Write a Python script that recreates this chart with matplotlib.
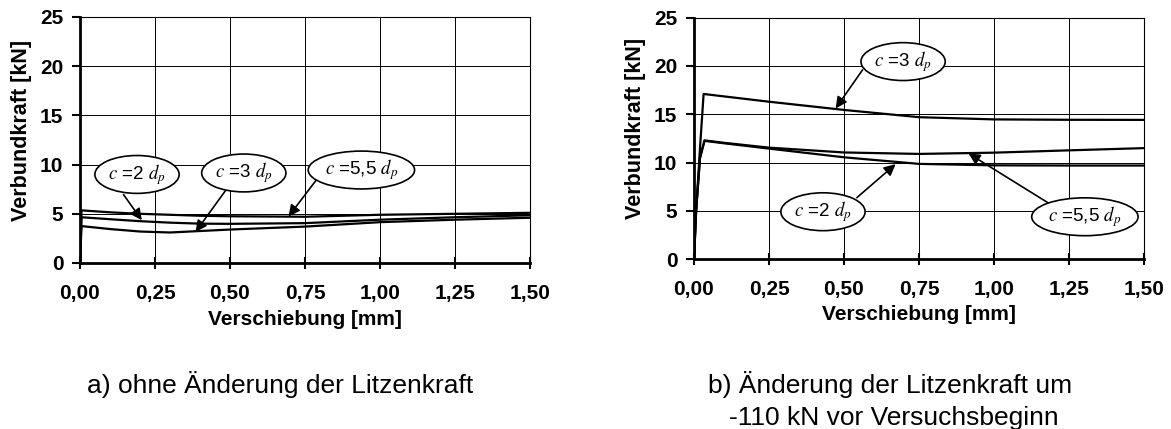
import matplotlib
matplotlib.use("Agg")
import matplotlib.pyplot as plt

plt.rcParams['font.family'] = ['Liberation Sans', 'DejaVu Sans']
plt.rcParams['mathtext.fontset'] = 'stix'

# x ticks / y ticks
x_ticks = [0.0, 0.25, 0.5, 0.75, 1.0, 1.25, 1.5]
x_ticklabels = ['0,00', '0,25', '0,50', '0,75', '1,00', '1,25', '1,50']
y_ticks = [0, 5, 10, 15, 20, 25]

# a) ohne Aenderung der Litzenkraft
a_x = [0.0, 0.005, 0.1, 0.2, 0.3, 0.4, 0.5, 0.75, 1.0, 1.25, 1.5]
a_2dp = [0.0, 4.65, 4.45, 4.25, 4.1, 4.0, 3.98, 4.05, 4.4, 4.65, 4.85]
a_3dp = [0.0, 3.75, 3.45, 3.2, 3.1, 3.25, 3.4, 3.7, 4.15, 4.4, 4.6]
a_55dp = [0.0, 5.35, 5.15, 5.0, 4.9, 4.8, 4.75, 4.7, 4.9, 5.0, 5.1]

# b) Aenderung der Litzenkraft um -110 kN
b_x_3dp = [0.0, 0.007, 0.02, 0.032, 0.1, 0.25, 0.5, 0.75, 1.0, 1.25, 1.5]
b_3dp = [0.0, 5.0, 11.5, 17.1, 16.85, 16.3, 15.45, 14.7, 14.47, 14.43, 14.42]
b_x_low = [0.0, 0.007, 0.02, 0.035, 0.1, 0.25, 0.5, 0.75, 1.0, 1.25, 1.5]
b_2dp = [0.0, 5.0, 10.5, 12.25, 12.0, 11.45, 10.55, 9.87, 9.72, 9.7, 9.7]
b_55dp = [0.0, 5.0, 10.5, 12.3, 12.05, 11.55, 11.05, 10.9, 11.03, 11.27, 11.5]

# labels: (text, centre, arrow start, arrow tip)
a_labels = [
    (r'$c$ =2 $d_p$', (0.19, 9.0), (0.145, 6.95), (0.206, 4.35)),
    (r'$c$ =3 $d_p$', (0.546, 9.15), (0.486, 7.4), (0.385, 3.15)),
    (r'$c$ =5,5 $d_p$', (0.938, 9.45), (0.788, 8.45), (0.695, 4.72)),
]
b_labels = [
    (r'$c$ =3 $d_p$', (0.697, 20.45), (0.562, 19.6), (0.472, 15.6)),
    (r'$c$ =2 $d_p$', (0.43, 4.92), (0.543, 6.38), (0.672, 9.84)),
    (r'$c$ =5,5 $d_p$', (1.303, 4.4), (1.184, 5.77), (0.915, 10.95)),
]

W, H = 1171, 429
fig = plt.figure(figsize=(W / 100, H / 100), dpi=100)
ax1 = fig.add_axes([80 / W, 1 - 263 / H, 450 / W, 246 / H])
ax2 = fig.add_axes([694 / W, 1 - 259.3 / H, 450 / W, 241.7 / H])


def style(ax):
    ax.set_xlim(0, 1.5)
    ax.set_ylim(0, 25)
    ax.set_xticks(x_ticks)
    ax.set_xticklabels(x_ticklabels)
    ax.set_yticks(y_ticks)
    ax.grid(True, color='k', lw=0.7)
    ax.set_axisbelow(True)
    for s in ['left', 'bottom']:
        ax.spines[s].set_linewidth(2.0)
    for s in ['top', 'right']:
        ax.spines[s].set_linewidth(0.8)
    ax.tick_params(axis='y', direction='out', length=6, width=1.5, pad=6,
                   labelsize=15)
    ax.tick_params(axis='x', direction='inout', length=8, width=1.5, pad=11,
                   labelsize=15)
    for t in ax.get_xticklabels() + ax.get_yticklabels():
        t.set_fontweight('bold')
    ax.set_xlabel('Verschiebung [mm]', fontsize=15, fontweight='bold')
    ax.set_ylabel('Verbundkraft [kN]', fontsize=15.5, fontweight='bold')
    ax.xaxis.set_label_coords(0.5, -0.19)
    ax.yaxis.set_label_coords(-0.107, 0.54)


def label(ax, items):
    for txt, c, start, tip in items:
        ax.annotate('', xy=tip, xytext=start,
                    arrowprops=dict(arrowstyle='-|>', color='k', lw=1.2,
                                    mutation_scale=17, shrinkA=0, shrinkB=0))
        ax.text(c[0], c[1], txt, ha='center', va='center', fontsize=13.5,
                bbox=dict(boxstyle='ellipse,pad=0.05', fc='white', ec='k', lw=1.2),
                zorder=5)


style(ax1)
style(ax2)

ax1.plot(a_x, a_2dp, color='k', lw=1.6)
ax1.plot(a_x, a_3dp, color='k', lw=1.6)
ax1.plot(a_x, a_55dp, color='k', lw=1.6)
ax2.plot(b_x_3dp, b_3dp, color='k', lw=1.6)
ax2.plot(b_x_low, b_2dp, color='k', lw=1.6)
ax2.plot(b_x_low, b_55dp, color='k', lw=1.6)

label(ax1, a_labels)
label(ax2, b_labels)

fig.text(280 / W, 1 - 393 / H, 'a) ohne Änderung der Litzenkraft',
         ha='center', va='baseline', fontsize=19)
fig.text(890 / W, 1 - 393 / H, 'b) Änderung der Litzenkraft um',
         ha='center', va='baseline', fontsize=19)
fig.text(894 / W, 1 - 425 / H, '-110 kN vor Versuchsbeginn',
         ha='center', va='baseline', fontsize=19)

fig.savefig('out.png', dpi=100)
